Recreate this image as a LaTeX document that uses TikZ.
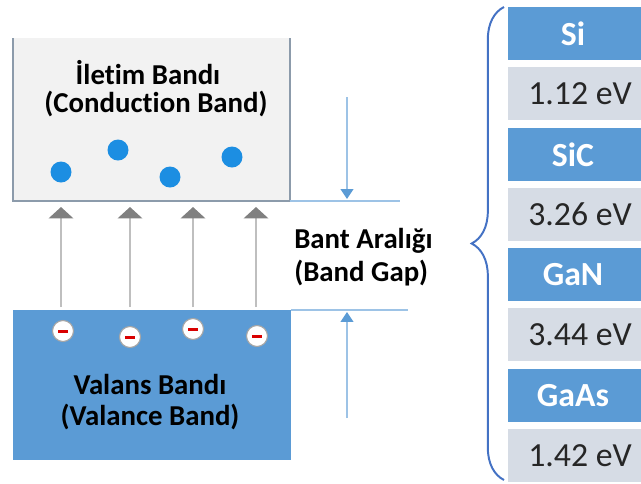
\documentclass[tikz,border=0pt]{standalone}
\usepackage{fontspec}
\setmainfont[Ligatures=NoCommon]{Carlito}
\usetikzlibrary{arrows.meta, positioning, decorations.pathreplacing}

\definecolor{bandblue}{RGB}{91,155,213}
\definecolor{cellgray}{RGB}{214,220,229}
\definecolor{cbfill}{RGB}{242,242,242}
\definecolor{cbedge}{RGB}{140,155,171}
\definecolor{gapline}{RGB}{157,195,230}
\definecolor{dotblue}{RGB}{28,142,226}
\definecolor{bracecol}{RGB}{68,114,196}

\tikzset{
  bandlabel/.style={font=\bfseries\fontsize{20.5}{23}\selectfont, align=center, inner sep=0pt},
  hdr/.style={font=\bfseries\fontsize{24}{26}\selectfont, text=white, inner sep=0pt},
  evval/.style={font=\fontsize{24}{26}\selectfont, text=black!85, inner sep=0pt},
  gaparrow/.style={gapline, line width=1.2pt, -{Triangle[width=9pt,length=7pt,color=bandblue]}},
  jump/.style={black!25, line width=2pt, -{Triangle[width=17pt,length=8pt,color=black!50]}}
}

\begin{document}
\begin{tikzpicture}[x=0.025cm, y=-0.025cm]
\useasboundingbox (0,0) rectangle (641,483);

% ========== conduction band (open on top) ==========
\fill[cbfill] (13,38) rectangle (290,201);
\draw[cbedge, line width=1.4pt] (13,38) -- (13,201) -- (290,201) -- (290,38);
\node[bandlabel] (cbtr) at (148,73) {İletim Bandı};
\node[bandlabel] (cben) at (156,104) {(Conduction Band)};

% free electrons
\foreach \x/\y [count=\i] in {61/172,118/150,170/177,232/157} {
  \fill[dotblue] (\x,\y) circle (10.5);
}

% ========== valence band ==========
\fill[bandblue] (13,310) rectangle (291,460);
\node[bandlabel] (vbtr) at (150,384) {Valans Bandı};
\node[bandlabel] (vben) at (150,417) {(Valance Band)};

% holes with minus sign
\foreach \x/\y in {63/331,130/337,193/329,257/336} {
  \filldraw[fill=white, draw=black!35, line width=0.8pt] (\x,\y) circle (10.5);
  \fill[red!85!black] (\x-5,\y-1.5) rectangle (\x+5,\y+1.5);
}

% ========== transitions ==========
\foreach \x [count=\i] in {61,130,193,256} {
  \coordinate (lo\i) at (\x,307);
  \coordinate (hi\i) at (\x,207);
  \draw[jump] (lo\i) -- (hi\i);
}

% ========== band gap marks ==========
\coordinate (cbR) at (400,201);
\coordinate (vbR) at (408,310);
\draw[gapline, line width=1.2pt] (290,201) -- (cbR);
\draw[gapline, line width=1.2pt] (291,310) -- (vbR);
\coordinate (gtop) at (347,97);
\coordinate (gtopend) at (347,199);
\coordinate (gbot) at (347,418);
\coordinate (gbotend) at (347,312);
\draw[gaparrow] (gtop) -- (gtopend);
\draw[gaparrow] (gbot) -- (gbotend);
\node[bandlabel, align=left, anchor=west] (gap) at (294,257) {Bant Aralığı\\(Band Gap)};

% ========== brace ==========
\coordinate (brlo) at (504,480);
\coordinate (brhi) at (504,7);
\draw[bracecol, line width=1.4pt, decorate, decoration={brace, amplitude=23pt}] (brlo) -- (brhi);

% ========== material table ==========
\foreach \name/\val [count=\i from 0] in {Si/1.12, SiC/3.26, GaN/3.44, GaAs/1.42} {
  \fill[bandblue] (508, 7+\i*120.5) rectangle (645, 60+\i*120.5);
  \node[hdr] (mat\i) at (573, 34+\i*120.5) {\name};
  \fill[cellgray] (508, 67+\i*120.5) rectangle (645, 120+\i*120.5);
  \node[evval] (eg\i) at (580, 94+\i*120.5) {\val\ eV};
}

\end{tikzpicture}
\end{document}
